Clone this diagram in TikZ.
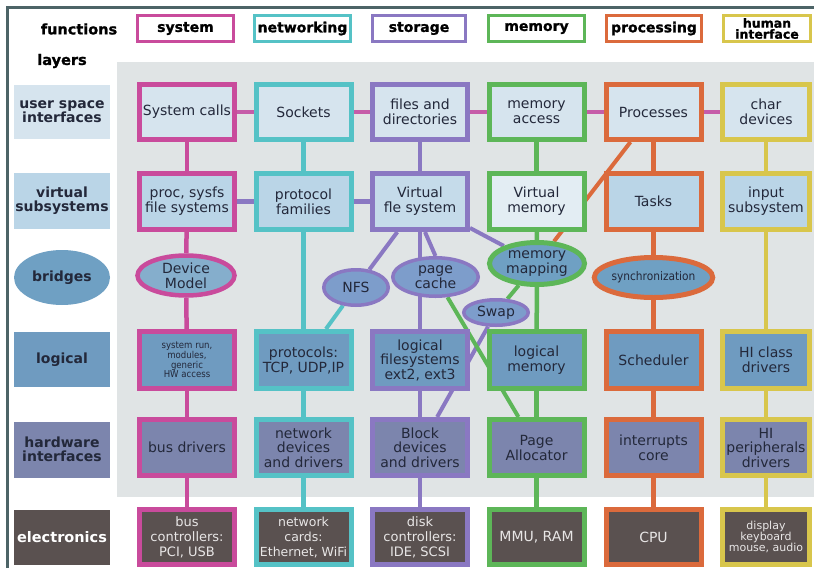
\documentclass[tikz,border=0pt]{standalone}
\usepackage{fontspec}
\setmainfont{DejaVu Sans}
\newfontfamily\heavyf[FakeBold=1.2]{DejaVu Sans Bold}
\newfontfamily\condf{DejaVu Sans Condensed}
\usetikzlibrary{shapes.geometric}
\pgfdeclarelayer{bgpanel}
\pgfdeclarelayer{links}
\pgfsetlayers{bgpanel,links,main}
\definecolor{csys}{HTML}{C94B9C}
\definecolor{cnet}{HTML}{55C2C6}
\definecolor{csto}{HTML}{8A78C2}
\definecolor{cmem}{HTML}{5DB658}
\definecolor{cproc}{HTML}{DB6A3C}
\definecolor{chi}{HTML}{D8C64C}
\definecolor{clink}{HTML}{C65CA8}
\definecolor{fuser}{HTML}{D6E4EE}
\definecolor{fvirt}{HTML}{BAD5E7}
\definecolor{fvlight}{HTML}{E3EDF3}
\definecolor{fbridge}{HTML}{6FA0C3}
\definecolor{fell}{HTML}{7D9DCB}
\definecolor{flog}{HTML}{6F9BC0}
\definecolor{fhw}{HTML}{7C85AD}
\definecolor{felec}{HTML}{5A5150}
\definecolor{cframe}{HTML}{4D6467}
\definecolor{cpanel}{HTML}{E0E4E5}
\definecolor{txt}{HTML}{23283A}
\definecolor{etxt}{HTML}{E8E6E6}
\begin{document}
\begin{tikzpicture}[x=1pt,y=-1pt,
  hdr/.style={draw=#1, line width=3pt, fill=white, minimum width=96pt, minimum height=26pt, inner sep=0pt, align=center, font=\fontsize{14}{13}\selectfont\heavyf, text=black},
  bx/.style={draw=#1, line width=5pt, minimum width=95pt, inner sep=0pt, align=center, font=\fontsize{14}{15}\selectfont, text=txt},
  ell/.style={ellipse, draw=#1, inner sep=0pt, align=center, font=\fontsize{14}{15}\selectfont, text=txt},
  lab/.style={minimum width=96pt, inner sep=0pt, align=center, font=\fontsize{14}{14}\selectfont\bfseries, text=txt},
  rowa/.style={fill=fuser, minimum height=55pt},
  rowb/.style={fill=fvirt, minimum height=56pt},
  rowd/.style={fill=flog, minimum height=57pt},
  rowe/.style={fill=fhw, minimum height=56pt},
  rowf/.style={fill=felec, minimum height=55pt, text=etxt, font=\fontsize{13}{15}\selectfont},
  lk/.style={line width=4.5pt, draw=#1},
  dg/.style={line width=4pt, draw=#1}]
\useasboundingbox (0,0) rectangle (814,568);
\begin{pgfonlayer}{bgpanel}
\fill[cpanel] (117,62) rectangle (814,497);
\end{pgfonlayer}
\draw[cframe, line width=3pt] (7,568) -- (7,7) -- (814,7);
% headers
\node[font=\fontsize{14.5}{14}\selectfont\heavyf] (hfun) at (79,29) {functions};
\node[font=\fontsize{14.5}{14}\selectfont\heavyf] (hlay) at (62,61) {layers};
\node[hdr=csys] (hsys) at (185.5,28.5) {system};
\node[hdr=cnet] (hnet) at (302.5,28.5) {networking};
\node[hdr=csto, minimum width=93pt] (hsto) at (419,28.5) {storage};
\node[hdr=cmem] (hmem) at (536.5,28.5) {memory};
\node[hdr=cproc, minimum width=95pt] (hproc) at (654,28.5) {processing};
\node[hdr=chi, minimum width=87pt, font=\fontsize{12.5}{11}\selectfont\heavyf] (hhi) at (767,28.5) {human\\interface};
% layer labels
\node[lab, fill=fuser, minimum height=54pt] (l1) at (62,112) {user space\\interfaces};
\node[lab, fill=fvirt, minimum height=56pt] (l2) at (62,201) {virtual\\subsystems};
\node[lab, ellipse, fill=fbridge, minimum height=55pt] (l3) at (62,277.5) {bridges};
\node[lab, fill=flog, minimum height=55pt] (l4) at (62,359.5) {logical};
\node[lab, fill=fhw, minimum height=56pt] (l5) at (62,449.5) {hardware\\interfaces};
\node[lab, fill=felec, minimum height=55pt, text=white, font=\fontsize{14.5}{14}\selectfont\bfseries] (l6) at (62,537.5) {electronics};
% row 1
\node[bx=csys, rowa] (sc) at (187,112) {System calls};
\node[bx=cnet, rowa] (so) at (303.5,112) {Sockets};
\node[bx=csto, rowa] (fd) at (420,112) {files and\\directories};
\node[bx=cmem, rowa] (ma) at (536.5,112) {memory\\access};
\node[bx=cproc, rowa] (pr) at (653.5,112) {Processes};
\node[bx=chi, rowa, minimum width=87pt] (cd) at (766,112) {char\\devices};
% row 2
\node[bx=csys, rowb] (ps) at (187,201.5) {proc, sysfs\\file systems};
\node[bx=cnet, rowb] (pf) at (303.5,201.5) {protocol\\families};
\node[bx=csto, rowb, fill=fvirt!60!fuser] (vfs) at (420,201.5) {Virtual\\fle system};
\node[bx=cmem, rowb, fill=fvlight] (vm) at (536.5,201.5) {Virtual\\memory};
\node[bx=cproc, rowb] (ta) at (653.5,201.5) {Tasks};
\node[bx=chi, rowb, minimum width=87pt] (is) at (766,201.5) {input\\subsystem};
% row 3 bridges
\node[ell=csys, line width=4.5pt, fill=fbridge!85!white, minimum width=97pt, minimum height=40pt] (dm) at (186,275.5) {Device\\Model};
\node[ell=csto, line width=3.5pt, fill=fell, minimum width=64.5pt, minimum height=35.5pt] (nfs) at (356,287.5) {NFS};
\node[ell=csto, line width=3.5pt, fill=fell, minimum width=85.5pt, minimum height=38.5pt] (pc) at (435.5,277) {page\\cache};
\node[ell=cmem, line width=5pt, fill=fbridge, minimum width=95pt, minimum height=42pt] (mm) at (537,263.5) {memory\\mapping};
\node[ell=csto, line width=3.5pt, fill=fell, minimum width=64.5pt, minimum height=25.5pt] (sw) at (496,312.5) {Swap};
\node[ell=cproc, line width=5pt, fill=fbridge, minimum width=98pt, minimum height=40pt, font=\fontsize{11.8}{12}\selectfont\condf] (sy) at (653.5,277.5) {synchronization};
% row 4
\node[bx=csys, rowd, font=\fontsize{9.5}{7.8}\selectfont\condf] (srn) at (187,360) {system run,\\modules,\\generic\\HW access};
\node[bx=cnet, rowd] (tcp) at (303.5,360) {protocols:\\TCP, UDP,IP};
\node[bx=csto, rowd, font=\fontsize{14}{14.5}\selectfont] (lfs) at (420,360) {logical\\filesystems\\ext2, ext3};
\node[bx=cmem, rowd] (lm) at (536.5,360) {logical\\memory};
\node[bx=cproc, rowd] (sch) at (653.5,360) {Scheduler};
\node[bx=chi, rowd, minimum width=87pt] (hic) at (766,360) {HI class\\drivers};
% row 5
\node[bx=csys, rowe] (bd) at (187,447.5) {bus drivers};
\node[bx=cnet, rowe, font=\fontsize{14}{14.5}\selectfont] (nd) at (303.5,447.5) {network\\devices\\and drivers};
\node[bx=csto, rowe, font=\fontsize{14}{14.5}\selectfont] (bk) at (420,447.5) {Block\\devices\\and drivers};
\node[bx=cmem, rowe] (pa) at (536.5,447.5) {Page\\Allocator};
\node[bx=cproc, rowe] (ic) at (653.5,447.5) {interrupts\\core};
\node[bx=chi, rowe, minimum width=87pt, font=\fontsize{14}{14.5}\selectfont] (hip) at (766,447.5) {HI\\peripherals\\drivers};
% row 6
\node[bx=csys, rowf] (bc) at (187,537) {bus\\controllers:\\PCI, USB};
\node[bx=cnet, rowf, font=\fontsize{12.5}{15}\selectfont] (nc) at (303.5,537) {network\\cards:\\Ethernet, WiFi};
\node[bx=csto, rowf] (dc) at (420,537) {disk\\controllers:\\IDE, SCSI};
\node[bx=cmem, rowf, font=\fontsize{14}{15}\selectfont] (mr) at (536.5,537) {MMU, RAM};
\node[bx=cproc, rowf, font=\fontsize{14}{15}\selectfont] (cpu) at (653.5,537) {CPU};
\node[bx=chi, rowf, minimum width=87pt, font=\fontsize{11}{10.8}\selectfont] (dk) at (766,537) {display\\keyboard\\mouse, audio};
% links
\begin{pgfonlayer}{links}
\draw[lk=clink] (sc) -- (so);
\draw[lk=clink] (so) -- (fd);
\draw[lk=clink] (fd) -- (ma);
\draw[lk=clink] (ma) -- (pr);
\draw[lk=clink] (pr) -- (cd);
\draw[lk=csto] (ps) -- (pf);
\draw[lk=csto] (pf) -- (vfs);
% system
\draw[lk=csys] (sc) -- (ps);
\draw[lk=csys] (ps) -- (dm);
\draw[lk=csys] (dm) -- (srn);
\draw[lk=csys] (srn) -- (bd);
\draw[lk=csys] (bd) -- (bc);
% networking
\draw[lk=cnet] (so) -- (pf);
\draw[lk=cnet] (pf) -- (tcp);
\draw[lk=cnet] (tcp) -- (nd);
\draw[lk=cnet] (nd) -- (nc);
\draw[dg=cnet] (nfs) -- (tcp);
% storage
\draw[lk=csto] (fd) -- (vfs);
\draw[dg=csto] (vfs) -- (nfs);
\draw[dg=csto] (vfs) -- (lfs);
\draw[dg=csto] ([xshift=5pt]vfs.south) -- (pc.north);
\draw[dg=csto] (vfs) -- (mm);
\draw[dg=csto] (sw) -- (bk);
\draw[dg=csto] (lfs) -- (bk);
\draw[lk=csto] (bk) -- (dc);
% memory
\draw[lk=cmem] (ma) -- (vm);
\draw[lk=cmem] (vm) -- (mm);
\draw[lk=cmem] (mm) -- (lm);
\draw[lk=cmem] (lm) -- (pa);
\draw[lk=cmem] (pa) -- (mr);
\draw[dg=cmem] (mm) -- (sw);
\draw[dg=cmem] (pc) -- (pa);
% processing
\draw[lk=cproc] (pr) -- (ta);
\draw[dg=cproc] (pr) -- (mm);
\draw[lk=cproc] (ta) -- (sy);
\draw[lk=cproc] (sy) -- (sch);
\draw[lk=cproc] (sch) -- (ic);
\draw[lk=cproc] (ic) -- (cpu);
% human interface
\draw[lk=chi] (cd) -- (is);
\draw[lk=chi] (is) -- (hic);
\draw[lk=chi] (hic) -- (hip);
\draw[lk=chi] (hip) -- (dk);
\end{pgfonlayer}
\end{tikzpicture}
\end{document}
